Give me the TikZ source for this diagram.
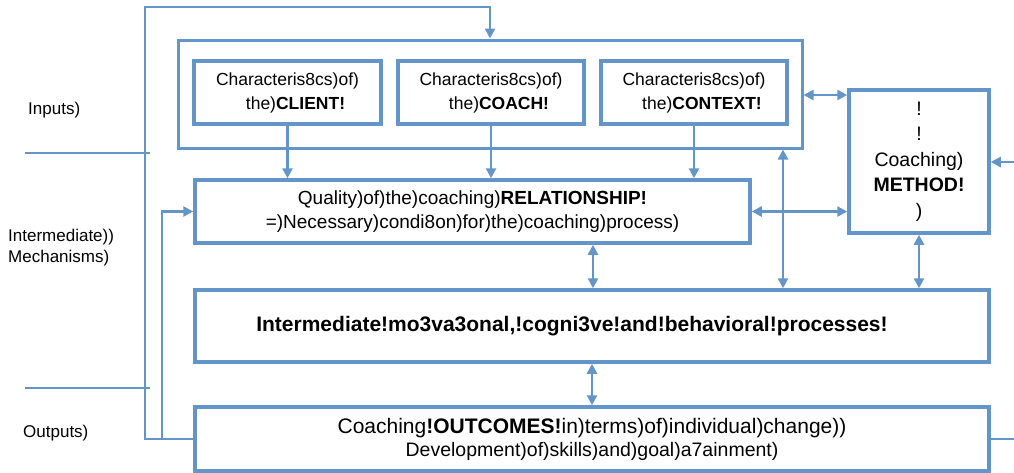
\documentclass[tikz,border=0pt]{standalone}
\usepackage{fontspec}
\setmainfont{Liberation Sans}
\usetikzlibrary{arrows.meta}
\definecolor{blu}{RGB}{99,149,201}
\begin{document}
\begin{tikzpicture}[x=1pt,y=-1pt,
  box/.style={draw=blu, line width=3.5pt, inner sep=0pt, align=center,
    font=\fontsize{17.5}{24}\selectfont},
  frame/.style={draw=blu, line width=3pt, inner sep=0pt},
  conn/.style={draw=blu, line width=2.5pt},
  tip/.tip={Triangle[length=10pt,width=10pt]},
  lab/.style={anchor=west, inner sep=0pt, align=left, font=\fontsize{17}{21}\selectfont}]
\useasboundingbox (0,0) rectangle (1014,472);

% row labels and separators
\node[lab] (linputs) at (28,110) {Inputs)};
\node[lab] (lmech) at (8,248) {Intermediate))\\Mechanisms)};
\node[lab] (loutputs) at (23,433) {Outputs)};
\coordinate (s1a) at (25,153); \coordinate (s1b) at (150,153);
\coordinate (s2a) at (25,388); \coordinate (s2b) at (150,388);
\draw[conn] (s1a) -- (s1b);
\draw[conn] (s2a) -- (s2b);

% input group
\node[frame, minimum width=624pt, minimum height=108pt] (inputs) at (490,94) {};
\node[box, minimum width=187pt, minimum height=63pt] (client) at (287.5,92.5)
  {Characteris8cs)of)\\ \hspace*{16pt}the)\textbf{CLIENT!}};
\node[box, minimum width=186pt, minimum height=63pt] (coach) at (491,92.5)
  {Characteris8cs)of)\\ \hspace*{16pt}the)\textbf{COACH!}};
\node[box, minimum width=186pt, minimum height=63pt] (context) at (694,92.5)
  {Characteris8cs)of)\\ \hspace*{16pt}the)\textbf{CONTEXT!}};

% method
\node[box, minimum width=140pt, minimum height=143pt, font=\fontsize{19.5}{25.5}\selectfont] (method) at (919,161.5)
  {!\\!\\Coaching)\\\textbf{METHOD!}\\)};

% relationship
\node[box, minimum width=555pt, minimum height=63pt, font=\fontsize{19}{23.5}\selectfont] (rel) at (472.5,211.5)
  {Quality)of)the)coaching)\textbf{RELATIONSHIP!}\\=)Necessary)condi8on)for)the)coaching)process)};

% intermediate processes
\node[box, minimum width=794pt, minimum height=72pt, font=\fontsize{21}{24}\selectfont\bfseries] (mid) at (592,326)
  {Intermediate!mo3va3onal,!cogni3ve!and!behavioral!processes!\hspace*{40pt}};

% outcomes
\node[box, minimum width=794pt, minimum height=64pt] (out) at (592,439)
  {\fontsize{21}{22}\selectfont Coaching\textbf{!OUTCOMES!}in)terms)of)individual)change))\\[-1pt]
   \fontsize{19.5}{22}\selectfont Development)of)skills)and)goal)a7ainment)};

% input arrows
\draw[conn,-tip] (client.south) -- (client.south |- rel.north);
\draw[conn,-tip] (coach.south) -- (coach.south |- rel.north);
\draw[conn,-tip] (context.south) -- (context.south |- rel.north);

% method links
\coordinate (yA) at (0,95);
\coordinate (xB) at (783,0);
\coordinate (xC) at (593,0);
\draw[conn,tip-tip] (inputs.east |- yA) -- (method.west |- yA);
\draw[conn,tip-tip] (rel.east) -- (rel.east -| method.west);
\draw[conn,tip-tip] (inputs.south -| xB) -- (mid.north -| xB);
\draw[conn,tip-tip] (method.south) -- (method.south |- mid.north);
\draw[conn,tip-tip] (rel.south -| xC) -- (mid.north -| xC);
\draw[conn,tip-tip] (mid.south) -- (out.north);

% external links at the right
\coordinate (rIn) at (1014,162);
\coordinate (rOut) at (1014,439);
\draw[conn,-tip] (rIn) -- (rIn -| method.east);
\draw[conn] (out.east) -- (rOut);

% feedback loops
\coordinate (loopB) at (145,439);
\coordinate (loopT) at (145,7);
\coordinate (branch) at (162,439);
\draw[conn,-tip] (out.west) -- (loopB) -- (loopT) -| (inputs.north);
\draw[conn,-tip] (branch) |- (rel.west);
\end{tikzpicture}
\end{document}
